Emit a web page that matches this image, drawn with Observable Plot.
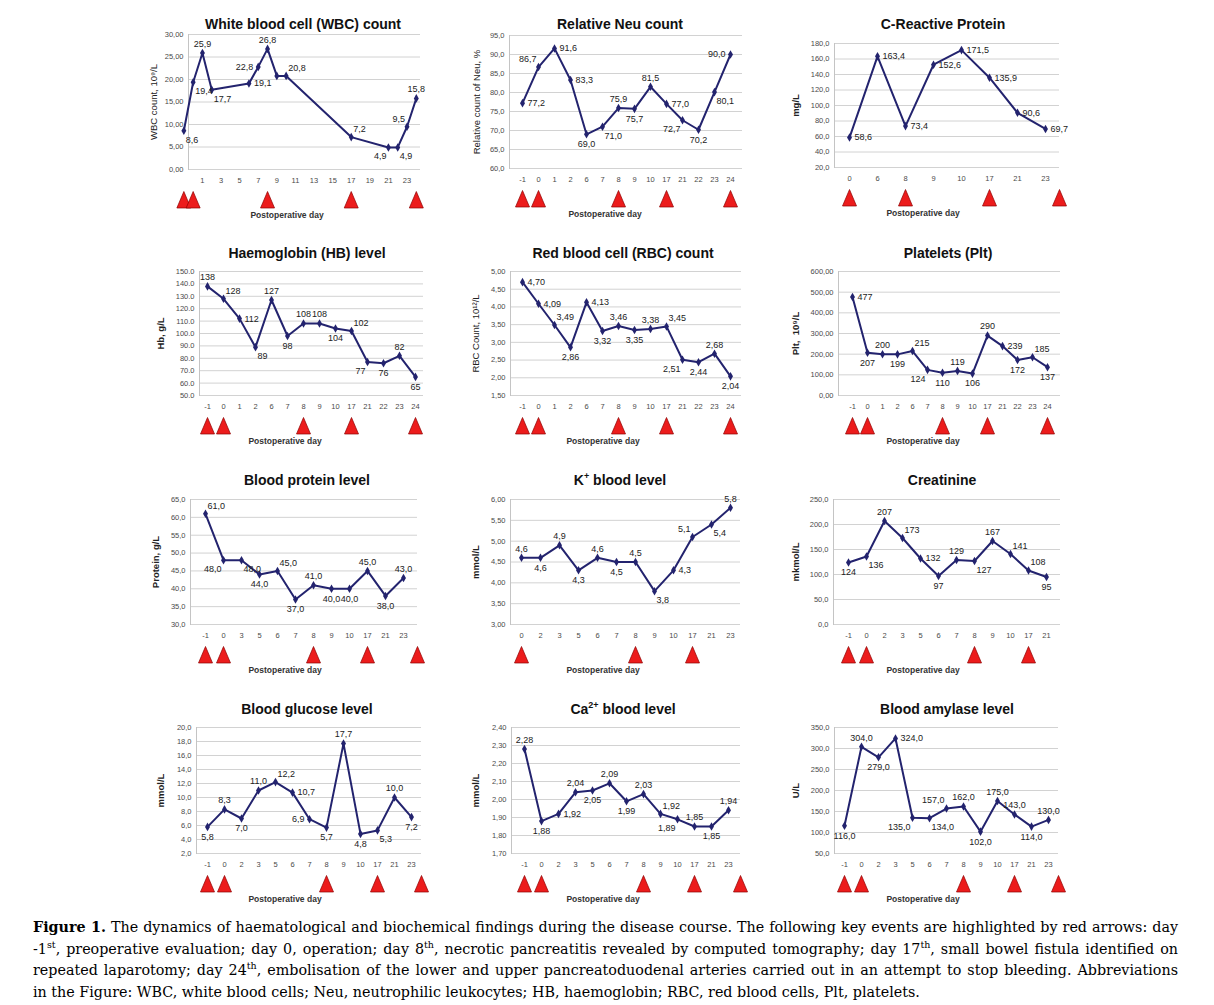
<!DOCTYPE html>
<html><head><meta charset="utf-8">
<script src="https://cdn.jsdelivr.net/npm/d3@7"></script>
<script src="https://cdn.jsdelivr.net/npm/@observablehq/plot@0.6"></script>
<style>
body{margin:0;background:#fff;}
#root{position:relative;width:1214px;height:1005px;overflow:hidden;font-family:"Liberation Sans",Arial,sans-serif;background:#fff;}
.title{position:absolute;transform:translate(-50%,-50%);font-weight:bold;font-size:14px;white-space:nowrap;color:#111;}
.title sup{font-size:9px;line-height:0;}
.xlab{position:absolute;transform:translate(-50%,-50%);font-weight:bold;font-size:8.5px;color:#333;white-space:nowrap;}
.panel{position:absolute;}
.panel svg{overflow:visible;}
#caption{position:absolute;left:33px;top:917px;width:1145px;font-family:"DejaVu Serif",serif;font-size:14.3px;line-height:21.7px;color:#000;}
#caption .ln{text-align:justify;text-align-last:justify;white-space:nowrap;}
#caption .last{text-align:left;text-align-last:left;}
#caption sup{font-size:9.5px;line-height:0;}
</style>
</head><body>
<div id="root"></div>
<script>
// ---------- data ----------
const wbcDays = [-1,0,1,2,6,7,8,9,10,17,21,22,23,24];
const wbcValues = [8.6,19.4,25.9,17.7,19.1,22.8,26.8,20.8,20.8,7.2,4.9,4.9,9.5,15.8];
const wbcXTicks = [1,3,5,7,9,11,13,15,17,19,21,23];
const wbcYTicks = [0,5,10,15,20,25,30];
const wbcEvents = [-1,0,8,17,24];

const neuDays = ["-1","0","1","2","6","7","8","9","10","17","21","22","23","24"];
const neuValues = [77.2,86.7,91.6,83.3,69.0,71.0,75.9,75.7,81.5,77.0,72.7,70.2,80.1,90.0];
const neuYTicks = [60,65,70,75,80,85,90,95];
const neuEvents = ["-1","0","8","17","24"];

const crpDays = ["0","6","8","9","10","17","21","23"];
const crpValues = [58.6,163.4,73.4,152.6,171.5,135.9,90.6,69.7];
const crpYTicks = [20,40,60,80,100,120,140,160,180];
const crpEvents = ["0","8","17","24"];

const hbDays = ["-1","0","1","2","6","7","8","9","10","17","21","22","23","24"];
const hbValues = [138,128,112,89,127,98,108,108,104,102,77,76,82,65];
const hbYTicks = [50,60,70,80,90,100,110,120,130,140,150];
const hbEvents = ["-1","0","8","17","24"];

const rbcDays = ["-1","0","1","2","6","7","8","9","10","17","21","22","23","24"];
const rbcValues = [4.70,4.09,3.49,2.86,4.13,3.32,3.46,3.35,3.38,3.45,2.51,2.44,2.68,2.04];
const rbcYTicks = [1.5,2,2.5,3,3.5,4,4.5,5];
const rbcEvents = ["-1","0","8","17","24"];

const pltDays = ["-1","0","1","2","6","7","8","9","10","17","21","22","23","24"];
const pltValues = [477,207,200,199,215,124,110,119,106,290,239,172,185,137];
const pltYTicks = [0,100,200,300,400,500,600];
const pltEvents = ["-1","0","8","17","24"];

const proteinDays = ["-1","0","3","5","6","7","8","9","10","17","21","23"];
const proteinValues = [61,48,48,44,45,37,41,40,40,45,38,43];
const proteinYTicks = [30,35,40,45,50,55,60,65];
const proteinEvents = ["-1","0","8","17","24"];

const kDays = ["0","2","3","5","6","7","8","9","10","17","21","23"];
const kValues = [4.6,4.6,4.9,4.3,4.6,4.5,4.5,3.8,4.3,5.1,5.4,5.8];
const kYTicks = [3,3.5,4,4.5,5,5.5,6];
const kEvents = ["0","8","17"];

const creatDays = ["-1","0","2","3","5","6","7","8","9","10","17","21"];
const creatValues = [124,136,207,173,132,97,129,127,167,141,108,95];
const creatYTicks = [0,50,100,150,200,250];
const creatEvents = ["-1","0","8","17"];

const glucoseDays = ["-1","0","2","3","5","6","7","8","9","10","17","21","23"];
const glucoseValues = [5.8,8.3,7.0,11.0,12.2,10.7,6.9,5.7,17.7,4.8,5.3,10.0,7.2];
const glucoseYTicks = [2,4,6,8,10,12,14,16,18,20];
const glucoseEvents = ["-1","0","8","17","24"];

const caDays = ["-1","0","2","3","5","6","7","8","9","10","17","21","23"];
const caValues = [2.28,1.88,1.92,2.04,2.05,2.09,1.99,2.03,1.92,1.89,1.85,1.85,1.94];
const caYTicks = [1.7,1.8,1.9,2.0,2.1,2.2,2.3,2.4];
const caEvents = ["-1","0","8","17","24"];

const amylaseDays = ["-1","0","2","3","5","6","7","8","9","10","17","21","23"];
const amylaseValues = [116,304,279,324,135,134,157,162,102,175,143,114,130];
const amylaseYTicks = [50,100,150,200,250,300,350];
const amylaseEvents = ["-1","0","8","17","24"];

// ---------- styling ----------
const NAVY = "#23236e";
const comma = (k) => (d) => d.toFixed(k).replace(".", ",");
const dotf = (k) => (d) => d.toFixed(k);
const OFF = {
  t:{dx:0,dy:-9,a:"middle"}, b:{dx:0,dy:10,a:"middle"},
  r:{dx:5,dy:0,a:"start"}, l:{dx:-5,dy:0,a:"end"},
  tr:{dx:2,dy:-8,a:"start"}, tl:{dx:-2,dy:-8,a:"end"},
  br:{dx:2,dy:9,a:"start"}, bl:{dx:-2,dy:9,a:"end"}
};
const tri = {draw(ctx){ctx.moveTo(0,-8.5);ctx.lineTo(7,8);ctx.lineTo(-7,8);ctx.closePath();}};

const panels = [
  {title:"White blood cell (WBC) count", days:wbcDays, values:wbcValues, linear:true, xTicks:wbcXTicks, xDomain:[-0.5,24.45],
   yTicks:wbcYTicks, yFmt:comma(2), lFmt:comma(1), events:wbcEvents,
   anchors:["br","br","t","br","r","l","t","n","tr","tr","bl","br","tl","t"],
   frame:[188,34,420,169], ylabel:"WBC count, 10⁹/L", ylx:153, ylw:"normal", titlePos:[303,24], xlabX:287},
  {title:"Relative Neu count", days:neuDays, values:neuValues, yTicks:neuYTicks, yFmt:comma(1), lFmt:comma(1), events:neuEvents,
   anchors:["r","tl","r","r","b","br","t","b","t","r","bl","b","br","l"],
   frame:[509,35,742,168], ylabel:"Relative count of Neu, %", ylx:476, ylw:"normal", titlePos:[620,24], xlabX:605},
  {title:"C-Reactive Protein", days:crpDays, values:crpValues, yTicks:crpYTicks, yFmt:comma(1), lFmt:comma(1), events:crpEvents,
   anchors:["r","r","r","r","r","r","r","r"],
   frame:[834,43,1059,167], ylabel:"mg/L", ylx:795, ylw:"bold", titlePos:[943,24], xlabX:923},
  {title:"Haemoglobin (HB) level", days:hbDays, values:hbValues, yTicks:hbYTicks, yFmt:dotf(1), lFmt:d=>String(d), events:hbEvents,
   anchors:["t","tr","r","br","t","b","t","t","b","tr","bl","b","t","b"],
   frame:[199,271,423,395], ylabel:"Hb, g/L", ylx:160, ylw:"bold", titlePos:[307,253], xlabX:285},
  {title:"Red blood cell (RBC) count", days:rbcDays, values:rbcValues, yTicks:rbcYTicks, yFmt:comma(2), lFmt:comma(2), events:rbcEvents,
   anchors:["r","r","tr","b","r","b","t","b","t","tr","bl","b","t","b"],
   frame:[510,271,741,395], ylabel:"RBC Count, 10¹²/L", ylx:475, ylw:"normal", titlePos:[623,253], xlabX:603},
  {title:"Platelets (Plt)", days:pltDays, values:pltValues, yTicks:pltYTicks, yFmt:comma(2), lFmt:d=>String(d), events:pltEvents,
   anchors:["r","b","t","b","tr","bl","b","t","b","t","r","b","tr","b"],
   frame:[838,271,1060,395], ylabel:"Plt,  10⁹/L", ylx:795, ylw:"bold", titlePos:[948,253], xlabX:923},
  {title:"Blood protein level", days:proteinDays, values:proteinValues, yTicks:proteinYTicks, yFmt:comma(1), lFmt:comma(1), events:proteinEvents,
   anchors:["tr","bl","br","b","tr","b","t","b","b","t","b","t"],
   frame:[190,499,417,624], ylabel:"Protein, g/L", ylx:155, ylw:"bold", titlePos:[307,480], xlabX:285},
  {title:"K<sup>+</sup> blood level", days:kDays, values:kValues, yTicks:kYTicks, yFmt:comma(2), lFmt:comma(1), events:kEvents,
   anchors:["t","b","t","b","t","b","t","br","r","tl","br","t"],
   frame:[510,499,740,624], ylabel:"mmol/L", ylx:475, ylw:"bold", titlePos:[620,480], xlabX:603},
  {title:"Creatinine", days:creatDays, values:creatValues, yTicks:creatYTicks, yFmt:comma(1), lFmt:d=>String(d), events:creatEvents,
   anchors:["b","br","t","tr","r","b","t","br","t","tr","tr","b"],
   frame:[833,499,1060,624], ylabel:"mkmol/L", ylx:795, ylw:"bold", titlePos:[942,480], xlabX:923},
  {title:"Blood glucose level", days:glucoseDays, values:glucoseValues, yTicks:glucoseYTicks, yFmt:comma(1), lFmt:comma(1), events:glucoseEvents,
   anchors:["b","t","b","t","tr","r","l","b","t","b","br","t","b"],
   frame:[196,727,421,853], ylabel:"mmol/L", ylx:160, ylw:"bold", titlePos:[307,709], xlabX:285},
  {title:"Ca<sup>2+</sup> blood level", days:caDays, values:caValues, yTicks:caYTicks, yFmt:comma(2), lFmt:comma(2), events:caEvents,
   anchors:["t","b","r","t","b","t","b","t","tr","bl","t","b","t"],
   frame:[511,727,740,853], ylabel:"mmol/L", ylx:475, ylw:"bold", titlePos:[623,709], xlabX:603},
  {title:"Blood amylase level", days:amylaseDays, values:amylaseValues, yTicks:amylaseYTicks, yFmt:comma(1), lFmt:comma(1), events:amylaseEvents,
   anchors:["b","t","b","r","bl","br","tl","t","b","t","t","b","t"],
   frame:[834,727,1058,853], ylabel:"U/L", ylx:795, ylw:"bold", titlePos:[947,709], xlabX:923}
];

const root = document.getElementById("root");
const ML = 60, MR = 20, MT = 20, MB = 60;

for (const o of panels) {
  const [x0, y0, x1, y1] = o.frame;
  const w = x1 - x0, h = y1 - y0;
  const data = o.days.map((d, i) => ({day: d, value: o.values[i], pos: o.anchors[i]}));
  const inDom = o.linear ? o.events : o.events.filter(e => o.days.includes(e));
  const edge = o.linear ? [] : o.events.filter(e => !o.days.includes(e));
  const labelMarks = Object.entries(OFF).map(([k, v]) =>
    Plot.text(data.filter(d => d.pos === k), {x: "day", y: "value", text: d => o.lFmt(d.value),
      dx: v.dx, dy: v.dy, textAnchor: v.a, fontSize: 9, fill: "#222"}));
  const xOpts = o.linear
    ? {type: "linear", domain: o.xDomain, ticks: o.xTicks, tickFormat: d => String(d), tickSize: 0, tickPadding: 8, label: null}
    : {type: "point", domain: o.days, padding: 0.5, tickSize: 0, tickPadding: 8, label: null};
  const svg = Plot.plot({
    width: ML + w + MR, height: MT + h + MB,
    marginLeft: ML, marginRight: MR, marginTop: MT, marginBottom: MB,
    style: {fontFamily: "Liberation Sans, Arial, sans-serif", fontSize: "7.5px", color: "#4a4a4a", background: "transparent", overflow: "visible"},
    x: xOpts,
    y: {domain: [o.yTicks[0], o.yTicks[o.yTicks.length - 1]], ticks: o.yTicks, tickFormat: o.yFmt, tickSize: 0, tickPadding: 5, label: null},
    marks: [
      Plot.ruleY(o.yTicks, {stroke: "#d2d2d2", strokeWidth: 1}),
      Plot.frame({anchor: "left", stroke: "#c4c4c4"}),
      Plot.line(data, {x: "day", y: "value", stroke: NAVY, strokeWidth: 2}),
      Plot.dot(data, {x: "day", y: "value", symbol: "diamond", r: 2.6, fill: NAVY}),
      ...labelMarks,
      Plot.dot(inDom, {x: d => d, frameAnchor: "bottom", dy: 30.5, symbol: tri, fill: "#ec1c1c", stroke: "#8e0000", strokeWidth: 0.7}),
      Plot.dot(edge, {frameAnchor: "bottom-right", dy: 30.5, symbol: tri, fill: "#ec1c1c", stroke: "#8e0000", strokeWidth: 0.7}),
      Plot.text([o.ylabel], {frameAnchor: "left", textAnchor: "middle", dx: -(x0 - o.ylx), rotate: -90, fontSize: 9.5, fontWeight: o.ylw, fill: "#222"})
    ]
  });
  const wrap = document.createElement("div");
  wrap.className = "panel";
  wrap.style.left = (x0 - ML) + "px";
  wrap.style.top = (y0 - MT) + "px";
  wrap.appendChild(svg);
  root.appendChild(wrap);

  const t = document.createElement("div");
  t.className = "title";
  t.innerHTML = o.title;
  t.style.left = o.titlePos[0] + "px";
  t.style.top = o.titlePos[1] + "px";
  root.appendChild(t);

  const xl = document.createElement("div");
  xl.className = "xlab";
  xl.textContent = "Postoperative day";
  xl.style.left = o.xlabX + "px";
  xl.style.top = (y1 + 46) + "px";
  root.appendChild(xl);
}

const cap = document.createElement("div");
cap.id = "caption";
cap.innerHTML =
  '<div class="ln"><b>Figure 1.</b> The dynamics of haematological and biochemical findings during the disease course. The following key events are highlighted by red arrows: day</div>' +
  '<div class="ln">-1<sup>st</sup>, preoperative evaluation; day 0, operation; day 8<sup>th</sup>, necrotic pancreatitis revealed by computed tomography; day 17<sup>th</sup>, small bowel fistula identified on</div>' +
  '<div class="ln">repeated laparotomy; day 24<sup>th</sup>, embolisation of the lower and upper pancreatoduodenal arteries carried out in an attempt to stop bleeding. Abbreviations</div>' +
  '<div class="ln last">in the Figure: WBC, white blood cells; Neu, neutrophilic leukocytes; HB, haemoglobin; RBC, red blood cells, Plt, platelets.</div>';
root.appendChild(cap);
</script>
</body></html>
